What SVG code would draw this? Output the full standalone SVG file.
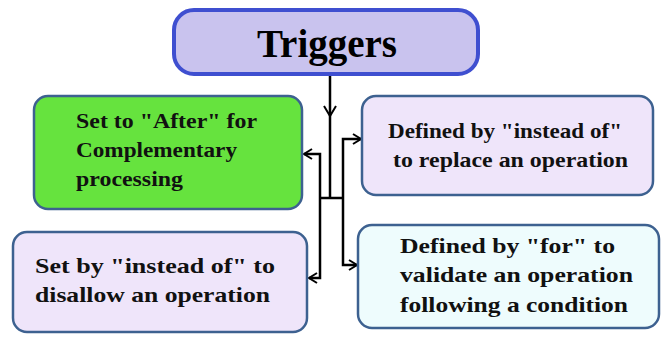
<svg xmlns="http://www.w3.org/2000/svg" width="662" height="337" viewBox="0 0 662 337">
  <defs>
    <marker id="chev" viewBox="0 0 12 12" refX="10" refY="6" markerWidth="12" markerHeight="12" markerUnits="userSpaceOnUse" orient="auto">
      <path d="M2,1 L10,6 L2,11" fill="none" stroke="#000" stroke-width="2"/>
    </marker>
  </defs>
  <style>
    .box { stroke: #3d6190; stroke-width: 2.5; }
    .lbl { font-family: "Liberation Serif", "Times New Roman", serif; font-weight: bold; font-size: 21px; fill: #111; }
    .title { font-family: "Liberation Serif", "Times New Roman", serif; font-weight: bold; font-size: 39px; fill: #000; }
    .wire { fill: none; stroke: #000; stroke-width: 2.5; }
  </style>
  <rect width="662" height="337" fill="#fff"/>

  <g id="connectors">
    <path class="wire" d="M330,75 V198" />
    <path d="M324,106 L330,116 L336,106" fill="none" stroke="#000" stroke-width="2"/>
    <path class="wire" d="M320,198 H344" />
    <path class="wire" d="M320,198 V154 H304" marker-end="url(#chev)"/>
    <path class="wire" d="M320,198 V278 H309" marker-end="url(#chev)"/>
    <path class="wire" d="M343,198 V139 H361" marker-end="url(#chev)"/>
    <path class="wire" d="M343,198 V265 H357" marker-end="url(#chev)"/>
  </g>

  <g id="triggers">
    <rect x="174" y="10" width="304" height="64" rx="20" fill="#c9c3ee" stroke="#3f4fd0" stroke-width="4"/>
    <text class="title" x="327" y="57" text-anchor="middle">Triggers</text>
  </g>

  <g id="after">
    <rect class="box" x="34" y="96" width="268" height="113" rx="14" fill="#66e33e"/>
    <text class="lbl" x="76" y="128" textLength="181" lengthAdjust="spacingAndGlyphs">Set to "After" for</text>
    <text class="lbl" x="76" y="157" textLength="161" lengthAdjust="spacingAndGlyphs">Complementary</text>
    <text class="lbl" x="76" y="186" textLength="107" lengthAdjust="spacingAndGlyphs">processing</text>
  </g>

  <g id="replace">
    <rect class="box" x="362" y="96" width="291" height="99" rx="14" fill="#efe5fa"/>
    <text class="lbl" x="388" y="138" textLength="234" lengthAdjust="spacingAndGlyphs">Defined by "instead of"</text>
    <text class="lbl" x="393" y="167" textLength="235" lengthAdjust="spacingAndGlyphs">to replace an operation</text>
  </g>

  <g id="disallow">
    <rect class="box" x="13" y="232" width="294" height="100" rx="14" fill="#efe5fa"/>
    <text class="lbl" x="35" y="273" textLength="240" lengthAdjust="spacingAndGlyphs">Set by "instead of" to</text>
    <text class="lbl" x="35" y="302" textLength="235" lengthAdjust="spacingAndGlyphs">disallow an operation</text>
  </g>

  <g id="validate">
    <rect class="box" x="358" y="225" width="301" height="103" rx="14" fill="#eefcfd"/>
    <text class="lbl" x="400" y="253" textLength="215" lengthAdjust="spacingAndGlyphs">Defined by "for" to</text>
    <text class="lbl" x="400" y="282" textLength="233" lengthAdjust="spacingAndGlyphs">validate an operation</text>
    <text class="lbl" x="400" y="312" textLength="228" lengthAdjust="spacingAndGlyphs">following a condition</text>
  </g>
</svg>
